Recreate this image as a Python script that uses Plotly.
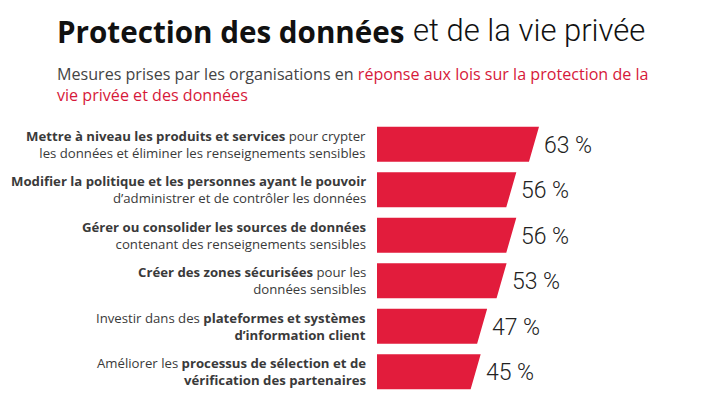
import plotly.graph_objects as go

# ---- data ----
labels = [
    "<b>Mettre à niveau les produits et services</b> pour crypter<br>les données et éliminer les renseignements sensibles",
    "<b>Modifier la politique et les personnes ayant le pouvoir</b><br>d’administrer et de contrôler les données",
    "<b>Gérer ou consolider les sources de données</b><br>contenant des renseignements sensibles",
    "<b>Créer des zones sécurisées</b> pour les<br>données sensibles",
    "Investir dans des <b>plateformes et systèmes</b><br><b>d’information client</b>",
    "Améliorer les <b>processus de sélection et de</b><br><b>vérification des partenaires</b>",
]
values = [63, 56, 56, 53, 47, 45]
value_labels = ["63 %", "56 %", "56 %", "53 %", "47 %", "45 %"]

title_bold = "Protection des données"
title_light = "et de la vie privée"
subtitle_grey = "Mesures prises par les organisations en "
subtitle_red = "réponse aux lois sur la protection de la<br>vie privée et des données"

# ---- style ----
W, H = 713, 413
RED = "#e21c3c"
TEXT = "#3a3a3a"
BASE = 13.0          # value at the left edge of the bars
SLANT = 3.1          # right-edge slant, in value units
HALF = 0.385         # half bar thickness, in category units
px_per_unit = 3.24
x_left_px = 377
x0_px = x_left_px - px_per_unit * BASE
xr = [-x0_px / px_per_unit, (W - x0_px) / px_per_unit]
pitch = 45.5
c0 = 144.2
yr = [(H - c0) / pitch, -c0 / pitch]

xs, ys = [], []
for i, v in enumerate(values):
    xs += [BASE, v, v - SLANT, BASE, BASE, None]
    ys += [i - HALF, i - HALF, i + HALF, i + HALF, i - HALF, None]

fig = go.Figure()
fig.add_trace(go.Scatter(
    x=xs, y=ys, mode="lines", fill="toself", fillcolor=RED,
    line=dict(width=0, color=RED), hoverinfo="skip", showlegend=False,
))

for i, (v, t) in enumerate(zip(values, value_labels)):
    fig.add_annotation(x=v, y=i, xref="x", yref="y", text=t, showarrow=False,
                       xanchor="left", yanchor="middle", xshift=3, yshift=-1,
                       font=dict(family="Roboto", size=23, color="#222", weight=300))

for i, lab in enumerate(labels):
    fig.add_annotation(x=368 / W, y=i, xref="paper", yref="y", text=lab,
                       showarrow=False, xanchor="right", yanchor="middle", align="right",
                       font=dict(family="Open Sans", size=13.2, color=TEXT))

fig.add_annotation(x=55 / W, y=1 - 9 / H, xref="paper", yref="paper",
                   text=f"<b>{title_bold}</b>", showarrow=False,
                   xanchor="left", yanchor="top", align="left",
                   font=dict(family="Open Sans", size=29.6, color="#111"))
fig.add_annotation(x=411 / W, y=1 - 10 / H, xref="paper", yref="paper",
                   text=title_light, showarrow=False,
                   xanchor="left", yanchor="top", align="left",
                   font=dict(family="Roboto", size=31, color="#111", weight=300))

fig.add_annotation(x=55 / W, y=1 - 61 / H, xref="paper", yref="paper",
                   text=f"{subtitle_grey}<span style='color:#d6193a'>{subtitle_red}</span>",
                   showarrow=False, xanchor="left", yanchor="top", align="left",
                   font=dict(family="Open Sans", size=16.1, color="#444"))

fig.update_layout(
    width=W, height=H, margin=dict(l=0, r=0, t=0, b=0),
    paper_bgcolor="white", plot_bgcolor="white",
    xaxis=dict(range=xr, visible=False, fixedrange=True),
    yaxis=dict(range=yr, visible=False, fixedrange=True),
)
fig.write_html("out.html", post_script="document.body.style.margin='0';",
               config={"displayModeBar": False})
